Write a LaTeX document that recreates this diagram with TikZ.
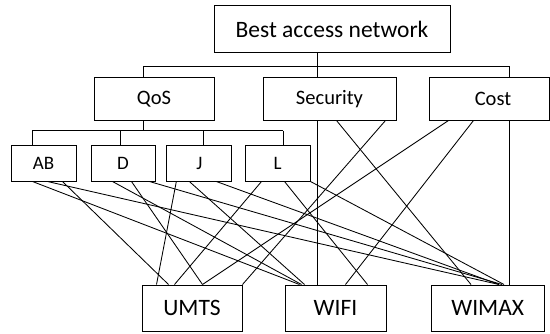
\documentclass[tikz,border=0pt]{standalone}
\usepackage{fontspec}
\setmainfont{Carlito}
\begin{document}
\begin{tikzpicture}[x=1pt,y=-1pt,
  box/.style={draw,line width=1pt,inner sep=0pt,minimum height=#1},
  link/.style={line width=0.85pt},
  toplbl/.style={font=\fontsize{23.5}{27}\selectfont},
  midlbl/.style={font=\fontsize{20.5}{24}\selectfont},
  smalllbl/.style={font=\fontsize{19}{22}\selectfont},
  botlbl/.style={font=\fontsize{23.5}{27}\selectfont}]
\useasboundingbox (0,0) rectangle (550,333);
% boxes
\node[box=47pt,minimum width=236pt,toplbl] (top) at (332,29.2) {Best access network};
\node[box=42.3pt,minimum width=120pt,midlbl] (qos) at (154,98.85) {QoS};
\node[box=42.3pt,minimum width=133pt,midlbl] (sec) at (329.5,98.85) {Security};
\node[box=42.3pt,minimum width=120pt,midlbl] (cost) at (489,98.85) {\hspace*{8pt}Cost};
\node[box=35.7pt,minimum width=64.8pt,smalllbl] (ab) at (43.6,163.15) {AB};
\node[box=35.7pt,minimum width=64pt,smalllbl] (d) at (123,163.15) {D};
\node[box=35.7pt,minimum width=65pt,smalllbl] (j) at (199.35,163.15) {J};
\node[box=35.7pt,minimum width=65pt,smalllbl] (l) at (277.5,163.15) {L};
\node[box=46pt,minimum width=100pt,botlbl] (umts) at (192,308) {UMTS};
\node[box=46pt,minimum width=101pt,botlbl] (wifi) at (335.5,308) {WIFI};
\node[box=46pt,minimum width=112.5pt,botlbl] (wimax) at (487.75,308) {WIMAX};
% bus coordinates
\coordinate (bus1) at (0,66.7);
\coordinate (bus2) at (0,130.7);
\coordinate (xq) at (143.3,0);
\coordinate (xs) at (317.5,0);
\coordinate (xc) at (509.7,0);
\coordinate (xab) at (32,0);
\coordinate (xd) at (120,0);
\coordinate (xj) at (203.3,0);
\coordinate (xl) at (283.3,0);
% hierarchy
\draw[link] (top.south -| xs) -- (bus1 -| xs);
\draw[link] (bus1 -| xq) -- (bus1 -| xc);
\draw[link] (bus1 -| xq) -- (qos.north -| xq);
\draw[link] (bus1 -| xs) -- (sec.north -| xs);
\draw[link] (bus1 -| xc) -- (cost.north -| xc);
\draw[link] (qos.south -| xq) -- (bus2 -| xq);
\draw[link] (bus2 -| xab) -- (bus2 -| xl);
\draw[link] (bus2 -| xab) -- (ab.north -| xab);
\draw[link] (bus2 -| xd) -- (d.north -| xd);
\draw[link] (bus2 -| xj) -- (j.north -| xj);
\draw[link] (bus2 -| xl) -- (l.north -| xl);
% AB
\draw[link] ([xshift=21.8pt]ab.south west) -- ([xshift=15pt]wifi.north west);
\draw[link] ([xshift=36.8pt]ab.south west) -- ([xshift=68pt]wimax.north west);
\draw[link] ([xshift=51.8pt]ab.south west) -- ([xshift=27pt]umts.north west);
% D
\draw[link] ([xshift=22pt]d.south west) -- ([xshift=17pt]wifi.north west);
\draw[link] ([xshift=41pt]d.south west) -- ([xshift=61pt]umts.north west);
\draw[link] ([xshift=59pt]d.south west) -- ([xshift=71pt]wimax.north west);
% J
\draw[link] ([xshift=10pt]j.south west) -- ([xshift=15pt]umts.north west);
\draw[link] ([xshift=23pt]j.south west) -- ([xshift=20pt]wifi.north west);
\draw[link] ([xshift=50pt]j.south west) -- ([xshift=68pt]wimax.north west);
% L
\draw[link] ([xshift=17pt]l.south west) -- ([xshift=33pt]umts.north west);
\draw[link] ([xshift=40pt]l.south west) -- ([xshift=83pt]wifi.north west);
\draw[link] (l.south east) -- ([xshift=73pt]wimax.north west);
% Security
\draw[link] (sec.south -| xs) -- (wifi.north -| xs);
\draw[link] ([xshift=123pt]sec.south west) -- (umts.north east);
\draw[link] ([xshift=74pt]sec.south west) -- ([xshift=40pt]wimax.north west);
% Cost
\draw[link] ([xshift=20pt]cost.south west) -- ([xshift=61pt]umts.north west);
\draw[link] ([xshift=45pt]cost.south west) -- ([xshift=61pt]wifi.north west);
\draw[link] (cost.south -| xc) -- (wimax.north -| xc);
\end{tikzpicture}
\end{document}
